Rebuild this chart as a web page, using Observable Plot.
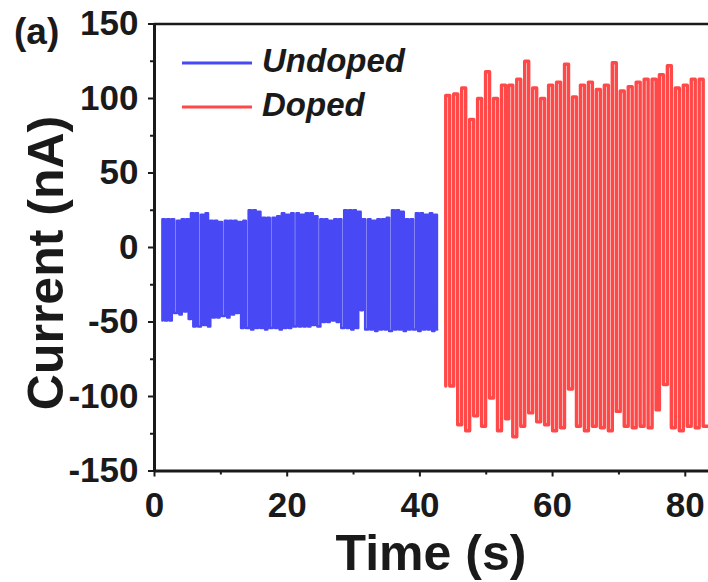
<!DOCTYPE html>
<html>
<head>
<meta charset="utf-8">
<script src="https://cdn.jsdelivr.net/npm/d3@7"></script>
<script src="https://cdn.jsdelivr.net/npm/@observablehq/plot@0.6"></script>
<style>
  html, body { margin: 0; padding: 0; background: #fff; }
  #chart { width: 708px; height: 582px; }
</style>
</head>
<body>
<div id="chart"></div>
<script>
// ---- data ----
const seriesNames = ["Undoped", "Doped"];

// Undoped: switching cycles (time in s, high / low current in nA)
const undopedTime = [1.2,1.9,2.6,3.4,4.1,4.8,5.5,6.2,7.0,7.7,
  8.4,9.1,9.8,10.6,11.3,12.0,12.7,13.4,14.2,14.9,
  15.6,16.3,17.0,17.8,18.5,19.2,19.9,20.6,21.4,22.1,
  22.8,23.5,24.2,25.0,25.7,26.4,27.1,27.8,28.6,29.3,
  30.0,30.7,31.4,32.2,32.9,33.6,34.3,35.0,35.8,36.5,
  37.2,37.9,38.6,39.4,40.1,40.8,41.5,42.2];
const undopedHigh = [19,19,19,18,19,19,23,23,22,23,
  18,18,17,18,18,18,17,18,25,25,
  24,20,20,20,21,23,22,23,23,22,
  23,23,21,19,19,18,19,19,25,25,
  25,24,19,19,18,19,19,20,25,25,
  24,19,19,23,23,22,23,22];
const undopedLow = [-49,-49,-44,-45,-43,-48,-53,-53,-52,-53,
  -47,-47,-46,-47,-45,-44,-54,-54,-55,-54,
  -54,-55,-54,-54,-55,-54,-54,-53,-53,-53,
  -53,-52,-53,-50,-50,-49,-50,-54,-54,-55,
  -54,-42,-55,-55,-56,-55,-55,-56,-55,-55,
  -56,-55,-55,-56,-55,-55,-56,-55];
const undopedEnd = 42.6;

// Doped: switching cycles
const dopedTime = [43.9,45.1,46.3,47.5,48.7,49.9,51.1,52.3,53.4,54.6,
  55.8,57.0,58.2,59.4,60.6,61.8,63.0,64.2,65.4,66.6,
  67.8,69.0,70.2,71.4,72.6,73.8,75.0,76.1,77.3,78.5,
  79.7,80.9,82.1];
const dopedHigh = [102,103,107,86,100,118,100,109,109,113,
  125,107,100,109,111,123,101,109,111,106,
  109,124,105,108,111,113,113,116,122,107,
  109,113,113];
const dopedLow = [-93,-119,-123,-113,-120,-101,-123,-115,-127,-120,
  -111,-117,-119,-123,-121,-95,-120,-123,-120,-121,
  -123,-110,-120,-121,-120,-121,-109,-92,-121,-123,
  -120,-121,-120];
const dopedEnd = 83.6;

const xMajor = [0, 20, 40, 60, 80];
const xMinor = [10, 30, 50, 70];
const yMajor = [-150, -100, -50, 0, 50, 100, 150];
const yMinor = [-125, -75, -25, 25, 75, 125];

const xTitle = "Time (s)";
const yTitle = "Current (nA)";
const panelTag = "(a)";

// ---- build line rows from the cycles ----
function cycleRows(T, H, L, hold, end) {
  const rows = [];
  for (let i = 0; i < T.length; i++) {
    if (i === 0) rows.push({t: T[0], v: L[0]});
    rows.push({t: T[i], v: H[i]});
    rows.push({t: T[i] + hold, v: H[i]});
    rows.push({t: T[i] + hold, v: L[i]});
    const next = i + 1 < T.length ? T[i + 1] : end;
    rows.push({t: next, v: L[i]});
  }
  return rows;
}
const blueRows = cycleRows(undopedTime, undopedHigh, undopedLow, 0.36, undopedEnd);
const redRows = cycleRows(dopedTime, dopedHigh, dopedLow, 0.6, dopedEnd);

const BLUE = "#4848f4";
const RED = "#ff4848";
const INK = "#1a1a1a";
const FONT = "'Liberation Sans', Arial, Helvetica, sans-serif";
const fmt = d => String(d);

const plot = Plot.plot({
  width: 708,
  height: 582,
  marginLeft: 154,
  marginRight: 0,
  marginTop: 23.5,
  marginBottom: 111.5,
  style: {fontFamily: FONT, fontSize: "35px", fontWeight: "bold", color: INK, background: "#fff", overflow: "visible"},
  x: {domain: [0, 83.5]},
  y: {domain: [-150, 150]},
  marks: [
    Plot.line(blueRows, {x: "t", y: "v", stroke: BLUE, strokeWidth: 2.6, clip: true}),
    Plot.line(redRows, {x: "t", y: "v", stroke: RED, strokeWidth: 3.4, clip: true}),
    Plot.axisX(xMajor, {tickSize: 6, tickPadding: 15, strokeWidth: 2, stroke: INK, label: null, fill: INK, tickFormat: fmt}),
    Plot.axisX(xMinor, {tickSize: 4, strokeWidth: 2, stroke: INK, tickFormat: () => "", label: null}),
    Plot.axisY(yMajor, {tickSize: 6, tickPadding: 10, strokeWidth: 2, stroke: INK, label: null, fill: INK, tickFormat: fmt}),
    Plot.axisY(yMinor, {tickSize: 4, strokeWidth: 2, stroke: INK, tickFormat: () => "", label: null}),
    Plot.ruleX([0], {stroke: INK, strokeWidth: 3}),
    Plot.ruleY([-150], {stroke: INK, strokeWidth: 3}),
    Plot.ruleY([150], {stroke: INK, strokeWidth: 2.5})
  ]
});

document.getElementById("chart").appendChild(plot);

// ---- titles, tag and legend ----
const svg = d3.select(plot);
svg.append("text")
  .attr("x", 431).attr("y", 570)
  .attr("text-anchor", "middle")
  .style("font", `bold 50px ${FONT}`).attr("fill", INK)
  .text(xTitle);
svg.append("text")
  .attr("transform", "translate(63,263) rotate(-90)")
  .attr("text-anchor", "middle")
  .style("font", `bold 50px ${FONT}`).attr("fill", INK)
  .text(yTitle);
svg.append("text")
  .attr("x", 14).attr("y", 44)
  .attr("text-anchor", "start")
  .style("font", `bold 37px ${FONT}`).attr("fill", INK)
  .text(panelTag);

const legend = [
  {name: seriesNames[0], color: BLUE, y: 63},
  {name: seriesNames[1], color: RED, y: 107}
];
legend.forEach(d => {
  svg.append("line")
    .attr("x1", 182).attr("x2", 252).attr("y1", d.y).attr("y2", d.y)
    .attr("stroke", d.color).attr("stroke-width", 3);
  svg.append("text")
    .attr("x", 262).attr("y", d.y + 9)
    .attr("text-anchor", "start")
    .style("font", `italic bold 33px ${FONT}`).attr("fill", INK)
    .text(d.name);
});
</script>
</body>
</html>
